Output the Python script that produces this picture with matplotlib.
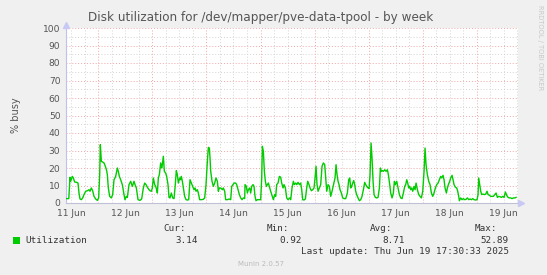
import matplotlib
matplotlib.use("Agg")
import matplotlib.pyplot as plt

# ---- data (hours since 11 Jun 00:00, % busy) ----
hours = [9.7, 10.9, 11.44, 11.73, 12.47, 12.92, 13.51, 14.40, 14.99, 15.43, 15.88, 16.47, 17.06, 17.65, 18.39,
         19.13, 19.87, 20.32, 20.91, 21.50, 22.09, 22.83, 23.57, 24.16, 24.61, 24.90, 25.35, 25.94, 26.53,
         27.12, 27.71, 28.01, 28.45, 29.05, 29.79, 30.38, 30.97, 31.71, 32.45, 32.89, 33.34, 33.93, 34.67,
         35.41, 35.85, 36.45, 36.89, 37.63, 38.37, 39.11, 39.85, 40.29, 40.89, 41.63, 42.51, 43.25, 43.99,
         44.58, 45.18, 45.77, 46.51, 46.95, 47.55, 47.99, 48.43, 49.03, 49.47,
         49.91, 50.21, 50.65, 51.10, 51.69, 52.13, 52.43, 52.87, 53.32, 53.91, 54.35, 54.94, 55.39, 55.83,
         56.42, 57.02, 57.61, 58.05, 58.64, 59.09, 59.53, 60.12, 60.57, 60.86, 61.31, 61.75, 62.34, 62.94,
         63.53, 64.12, 64.71, 65.30, 65.90, 66.49, 66.93, 67.38, 67.97, 68.41, 69.00, 69.74, 70.63, 71.22,
         71.81, 72.41, 72.85, 73.30, 73.59, 73.89, 74.48, 75.07, 75.66, 76.25, 76.85, 77.29, 77.74, 78.33,
         79.07, 79.51, 80.10, 80.55, 81.29, 82.03, 82.77, 83.21, 83.80, 84.25, 84.99, 85.43, 86.02, 86.62,
         87.21, 87.80, 88.39, 88.98,
         89.13, 89.72, 90.16, 90.61, 91.20, 91.64, 92.09, 92.68, 93.12, 93.57, 94.01, 94.60, 95.34, 96.08,
         96.53, 96.82, 97.27, 97.71, 98.16, 98.60, 99.04, 99.49, 100.08, 100.52, 101.26, 101.71, 102.30,
         102.74, 103.19, 103.78, 104.37, 104.96, 105.41, 106.00, 106.44, 107.04, 107.63, 108.22, 108.96,
         109.40, 109.99, 110.59, 111.03, 111.62, 112.07, 112.66, 113.25, 113.84, 114.29, 114.73, 115.32,
         115.92, 116.51, 116.95, 117.54, 117.99, 118.58, 119.17, 119.76, 120.21, 120.65, 121.09, 121.54,
         122.13, 122.72, 123.31, 123.91, 124.50, 124.94, 125.39, 125.98, 126.57, 127.16, 127.75,
         129.08, 129.53, 129.97, 130.42, 130.86, 131.30, 131.90, 132.49, 133.08, 133.82, 134.56, 135.15,
         135.60, 136.04, 136.48, 136.93, 137.37, 137.82, 138.26, 138.70, 139.30, 139.89, 140.48, 141.07,
         141.66, 142.26, 142.70, 143.14, 143.74, 144.18, 144.62, 145.07, 145.51, 145.96, 146.40, 146.99,
         147.58, 148.17, 148.77, 149.21, 149.66, 150.10, 150.54, 151.14, 151.73, 152.32, 152.76, 153.36,
         153.80, 154.39, 154.98, 155.43, 155.87, 156.46, 157.06, 157.65, 158.24, 158.83, 159.42, 160.02,
         160.46, 160.90, 161.35, 161.79, 162.24, 162.68, 163.12, 163.57, 164.16, 164.61, 165.05, 165.64,
         166.23, 166.82, 167.42, 168.01, 168.60, 169.04,
         169.48, 170.07, 170.67, 171.26, 171.85, 172.44, 173.03, 173.63, 174.22, 174.81, 175.40, 175.99,
         176.44, 177.03, 177.47, 177.92, 178.51, 178.95, 179.40, 179.99, 180.43, 181.03, 181.47, 181.91,
         182.50, 183.10, 183.54, 183.98, 184.28, 184.87, 185.46, 186.06, 186.65, 187.24, 187.83, 188.42,
         189.02, 189.61, 190.20, 190.79, 191.53, 192.12, 192.57, 192.86, 193.31, 193.75, 194.20, 194.79,
         195.38, 195.97, 196.56, 197.01, 197.60, 198.19, 198.78, 199.37, 199.97, 200.56, 201.15, 201.74,
         202.33, 202.93, 203.52, 204.11, 204.70, 205.29, 205.88, 206.48, 207.07, 207.66, 208.25, 208.84,
         209.44]
busy = [2.5, 2.5, 14.7, 12.4, 15.2, 14.3, 12.0, 11.8, 11.4, 5.7, 2.3, 1.9, 2.9, 4.8, 6.7,
        7.0, 7.6, 6.7, 8.6, 7.0, 3.8, 2.3, 1.5, 2.9, 16.2, 33.3, 23.8, 23.4, 22.9,
        21.0, 18.5, 16.2, 8.6, 3.8, 2.9, 4.8, 13.3, 15.2, 20.0, 18.1, 15.2, 13.3, 10.5,
        4.8, 1.9, 3.8, 3.2, 10.5, 12.4, 9.5, 12.4, 10.5, 8.6, 1.9, 1.5, 2.3, 8.6,
        11.4, 10.5, 9.0, 7.6, 7.0, 6.7, 8.6, 14.3, 10.5, 9.5,
        7.6, 5.7, 14.3, 16.2, 22.9, 20.0, 21.9, 26.7, 18.1, 17.1, 15.2, 10.5, 3.2, 2.9,
        5.7, 2.9, 2.5, 8.6, 18.5, 16.2, 11.4, 14.3, 13.3, 15.2, 12.4, 8.6, 3.8, 1.9,
        1.7, 1.9, 13.3, 11.4, 9.5, 7.6, 8.6, 6.7, 7.6, 5.7, 1.9, 1.9, 2.1, 2.9,
        10.5, 23.8, 31.8, 31.4, 25.7, 18.1, 12.4, 9.5, 11.4, 14.3, 12.4, 6.7, 8.6, 8.6,
        7.6, 8.6, 6.7, 1.9, 1.9, 2.3, 1.9, 9.5, 10.5, 11.4, 11.4, 10.5, 7.6, 4.8,
        2.9, 1.9, 2.9, 2.5,
        10.5, 9.5, 5.7, 7.6, 8.6, 5.7, 9.5, 10.5, 9.5, 3.8, 1.3, 1.9, 1.9, 1.9,
        14.3, 32.4, 29.5, 18.1, 12.4, 9.5, 10.5, 11.4, 8.6, 6.7, 3.8, 1.9, 4.8,
        3.8, 10.5, 11.4, 15.2, 14.7, 11.4, 8.6, 10.5, 8.6, 2.9, 1.9, 2.9,
        1.9, 8.6, 12.4, 10.5, 11.4, 10.5, 11.8, 10.5, 11.4, 7.6, 1.9, 1.7,
        2.3, 8.6, 12.4, 10.5, 8.6, 7.0, 7.6, 8.6, 14.3, 21.0, 10.5, 6.7,
        8.6, 10.5, 21.0, 22.9, 21.9, 14.3, 6.7, 10.5, 9.5, 3.8, 6.7,
        14.3, 21.9, 16.2, 12.4, 10.5, 7.6, 5.7, 2.9, 2.5, 2.5, 5.7, 13.3,
        14.3, 8.6, 9.5, 11.4, 12.8, 10.5, 6.7, 4.8, 2.9, 1.3, 1.9, 3.8,
        7.6, 11.8, 10.5, 9.5, 8.6, 8.2, 16.2, 34.3, 25.7, 12.4, 4.8, 3.2,
        2.9, 3.2, 8.6, 20.0, 18.1, 18.5, 18.1, 19.0, 18.1, 19.0, 16.2, 10.5,
        5.7, 2.9, 5.7, 12.4, 10.5, 12.4, 8.6, 4.8, 2.9, 2.5, 5.7, 9.5,
        10.5, 13.3, 11.4, 8.6, 9.5, 7.6, 8.6, 6.7, 9.5, 7.6, 11.4, 7.6,
        4.8, 3.8, 2.9, 6.7, 18.1, 31.4,
        21.9, 16.2, 12.4, 10.5, 5.7, 3.8, 5.7, 8.6, 10.5, 11.4, 13.3, 15.2,
        14.3, 15.8, 13.3, 8.6, 5.7, 8.6, 10.5, 12.4, 14.3, 15.8, 13.3, 10.5,
        9.0, 8.6, 6.7, 3.8, 1.3, 2.9, 1.9, 2.5, 1.9, 2.1, 2.9, 1.9,
        2.3, 1.9, 2.5, 1.9, 1.7, 1.9, 4.8, 14.3, 10.5, 6.7, 4.8, 5.1,
        4.8, 5.1, 6.7, 4.8, 4.4, 3.8, 3.8, 3.8, 4.8, 5.7, 3.2, 3.8,
        3.6, 3.2, 3.8, 3.2, 6.3, 4.4, 3.2, 2.9, 2.9, 2.5, 2.9, 2.9,
        3.2]

day_noons = [12, 36, 60, 84, 108, 132, 156, 180, 204]
day_labels = ["11 Jun", "12 Jun", "13 Jun", "14 Jun", "15 Jun", "16 Jun", "17 Jun", "18 Jun", "19 Jun"]
y_ticks = [0, 10, 20, 30, 40, 50, 60, 70, 80, 90, 100]

title = "Disk utilization for /dev/mapper/pve-data-tpool - by week"
ylabel = "% busy"
series_name = "Utilization"
stat_names = ["Cur:", "Min:", "Avg:", "Max:"]
stat_values = ["3.14", "0.92", "8.71", "52.89"]
last_update = "Last update: Thu Jun 19 17:30:33 2025"
footer = "Munin 2.0.57"
side_text = "RRDTOOL / TOBI OETIKER"

X_MIN, X_MAX = 9.66, 210.3

# ---- figure ----
W, H = 547, 275
fig = plt.figure(figsize=(W / 100, H / 100), dpi=100, facecolor="#F0F0F0")
ax = fig.add_axes([66 / W, 72 / H, 452 / W, 175 / H], facecolor="white")
ax.set_xlim(X_MIN, X_MAX)
ax.set_ylim(0, 100)

red = "#F2A6A6"
gray = "#D4D4D4"
for v in range(5, 101, 5):
    ax.axhline(v, color=red if v % 10 == 0 else gray, lw=0.7, ls=(0, (1, 2)), zorder=1)
h = 12
while h <= X_MAX:
    ax.axvline(h, color=red if h % 24 == 0 else gray, lw=0.7, ls=(0, (1, 2)), zorder=1)
    h += 6

ax.plot(hours, busy, color="#00CC00", lw=1.0, zorder=3)

for s in ["top", "right"]:
    ax.spines[s].set_visible(False)
ax.spines["left"].set_color("#C0C0F0")
ax.spines["bottom"].set_color("#C0C0D8")
ax.spines["left"].set_linewidth(0.8)
ax.spines["bottom"].set_linewidth(0.8)
ax.plot([X_MIN], [102], marker="^", color="#C8C8F5", ms=4, clip_on=False, zorder=4)
ax.plot([X_MAX + 1.3], [0], marker=">", color="#C8C8F5", ms=4, clip_on=False, zorder=4)

tc = "#555555"
ax.set_yticks(y_ticks)
ax.set_yticklabels([str(v) for v in y_ticks], fontsize=6.6, color=tc)
ax.set_xticks(day_noons)
ax.set_xticklabels(day_labels, fontsize=6.6, color=tc)
ax.tick_params(axis="both", length=0, pad=4)
ax.set_ylabel(ylabel, fontsize=7, color=tc, labelpad=16)

fig.text(261 / W, 1 - 18 / H, title, ha="center", va="center", fontsize=8.65, color="#555555")
fig.text(540 / W, 1 - 5 / H, side_text, rotation=270, ha="center", va="top",
         fontsize=4.8, color="#C8C8C8")

mono = "DejaVu Sans Mono"
fs = 6.7
fig.patches.append(plt.Rectangle((13 / W, 1 - 244 / H), 7 / W, 7 / H, transform=fig.transFigure,
                                 facecolor="#00CC00", edgecolor="none"))
fig.text(25 / W, 1 - 240.5 / H, series_name, family=mono, fontsize=fs, color="#333333", va="center")
name_right = [186, 289, 392, 497]
val_right = [198, 302, 405, 509]
for n, xr in zip(stat_names, name_right):
    fig.text(xr / W, 1 - 228.5 / H, n, family=mono, fontsize=fs, color="#333333", va="center", ha="right")
for v, xr in zip(stat_values, val_right):
    fig.text(xr / W, 1 - 240.5 / H, v, family=mono, fontsize=fs, color="#333333", va="center", ha="right")
fig.text(509 / W, 1 - 251.5 / H, last_update, family=mono, fontsize=fs, color="#333333",
         va="center", ha="right")
fig.text(261 / W, 1 - 264 / H, footer, fontsize=5, color="#BBBBBB", va="center", ha="center")

fig.savefig("out.png", dpi=100, facecolor=fig.get_facecolor())
